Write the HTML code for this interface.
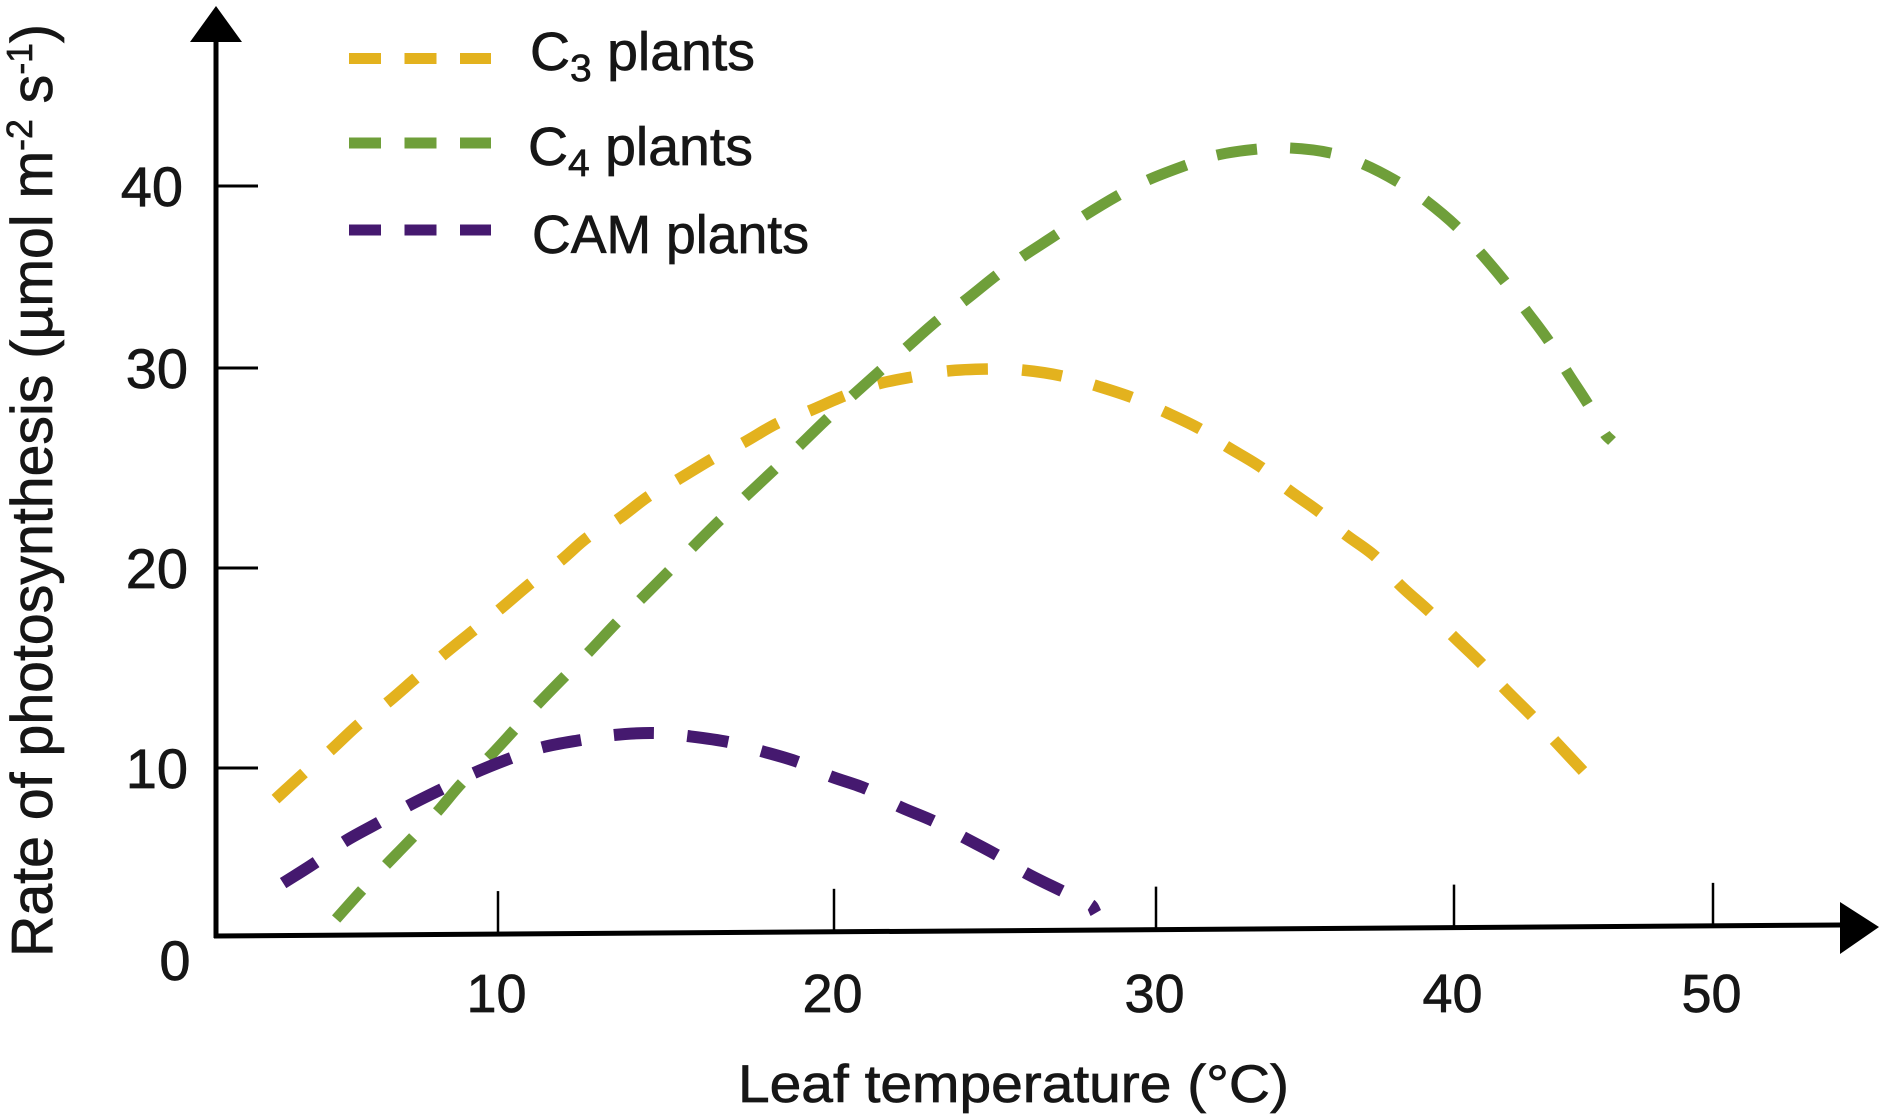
<!DOCTYPE html>
<html lang="en">
<head>
<meta charset="utf-8">
<title>Rate of photosynthesis vs leaf temperature</title>
<style>
html,body{margin:0;padding:0;background:#fff;}
svg{display:block;}
text{font-family:"Liberation Sans",sans-serif;fill:#161616;stroke:#161616;stroke-width:0.7px;}
</style>
</head>
<body>
<svg id="chart" xmlns="http://www.w3.org/2000/svg" width="1883" height="1119" viewBox="0 0 1883 1119">
  <rect x="0" y="0" width="1883" height="1119" fill="#ffffff"/>
  <g id="series-layer"></g>
  <g id="axes-layer">
    <line x1="216" y1="40" x2="216" y2="938" stroke="#000" stroke-width="5"/>
    <polygon points="216,6 242,42 190,42" fill="#000"/>
    <line x1="214" y1="936" x2="1842" y2="925" stroke="#000" stroke-width="5"/>
    <polygon points="1879,927 1840,902 1840,954" fill="#000"/>
  </g>
  <text x="175" y="980" font-size="56" text-anchor="middle">0</text>
  <text x="738" y="1102" font-size="53" textLength="551" lengthAdjust="spacingAndGlyphs">Leaf temperature (°C)</text>
  <text transform="translate(52,957) rotate(-90)" font-size="58" textLength="933" lengthAdjust="spacingAndGlyphs">Rate of photosynthesis (µmol m<tspan font-size="36" dy="-20">-2</tspan><tspan dy="20"> s</tspan><tspan font-size="36" dy="-20">-1</tspan><tspan dy="20">)</tspan></text>
  <g>
    <g>
      <line x1="349" y1="58.5" x2="491" y2="58.5" stroke="#E3B21E" stroke-width="11" stroke-dasharray="32 23.5"/>
      <text x="530" y="70" font-size="54" textLength="225" lengthAdjust="spacingAndGlyphs">C<tspan font-size="38" dy="11">3</tspan><tspan dy="-11"> plants</tspan></text>
    </g>
    <g>
      <line x1="349" y1="143" x2="491" y2="143" stroke="#6F9F3A" stroke-width="11" stroke-dasharray="32 23.5"/>
      <text x="528" y="165" font-size="54" textLength="225" lengthAdjust="spacingAndGlyphs">C<tspan font-size="38" dy="11">4</tspan><tspan dy="-11"> plants</tspan></text>
    </g>
    <g>
      <line x1="349" y1="230" x2="491" y2="230" stroke="#45196F" stroke-width="11" stroke-dasharray="32 23.5"/>
      <text x="532" y="253" font-size="54" textLength="277" lengthAdjust="spacingAndGlyphs">CAM plants</text>
    </g>
  </g>
</svg>
<script>
// Axis tick values
const xTicks = [10, 20, 30, 40, 50];
const yTicks = [10, 20, 30, 40];

// Readings along each curve, taken in pairs: each pair is the start and end of one dash.
const c3Temps = [2.11,3.12,4.04,5.07,6.06,7.09,8.01,9.15,10.03,10.98,11.85,12.68,13.54,14.49,15.33,16.37,17.29,18.33,19.26,20.31,21.37,22.42,23.51,24.78,25.84,27.08,28.07,29.25,30.23,31.48,32.35,33.56,34.40,35.50,36.34,37.38,38.12,39.19,39.93,41.08,41.89,43.01,43.86,44.98];
const c3Rates = [8.15,9.70,10.85,12.2,13.25,14.5,15.6,16.9,17.9,19.25,20.35,21.55,22.4,23.6,24.4,25.45,26.25,27.25,27.85,28.6,29.2,29.55,29.85,29.95,29.9,29.6,29.15,28.53,27.85,26.95,26.1,25.0,23.95,22.78,21.7,20.55,19.25,17.8,16.65,15.2,14.05,12.6,11.4,9.82];

const c4Temps = [4.26,5.18,6.03,6.99,7.84,8.72,9.65,10.48,11.16,12.0,12.68,13.54,14.23,15.09,15.77,16.61,17.35,18.24,18.96,19.82,20.56,21.46,22.24,23.23,24.01,25.06,25.84,26.93,27.76,28.85,29.75,31.02,32.04,33.39,34.5,35.88,36.95,38.12,39.03,40.12,41.0,41.97,42.74,43.66,44.32,45.17,45.83,46.10];
const c4Rates = [1.01,2.74,4.23,5.89,7.38,9.11,10.5,11.9,13.15,14.6,15.75,17.28,18.4,19.85,21.0,22.4,23.55,24.95,26.1,27.5,28.6,29.9,31.1,32.64,33.63,35.11,36.1,37.36,38.35,39.51,40.33,41.15,41.7,42.03,42.09,41.81,41.21,40.22,39.23,37.75,36.37,34.73,33.24,31.48,29.9,28.2,26.7,26.35];

const camTemps = [2.38,3.55,4.54,5.78,6.81,8.01,9.15,10.39,11.31,12.47,13.45,14.64,15.63,16.85,17.83,18.93,19.88,21.02,21.99,23.08,24.01,25.06,25.93,27.08,27.98,28.13];
const camRates = [3.15,4.40,5.60,6.76,7.74,8.75,9.70,10.5,11.03,11.4,11.65,11.75,11.6,11.3,10.85,10.3,9.52,8.75,7.74,6.85,5.89,4.82,3.78,2.68,1.85,1.37];

const NS = 'http://www.w3.org/2000/svg';

// The hand-drawn axes have unevenly spaced ticks, so each scale is piecewise linear.
function piecewise(v, step, px) {
  let i = Math.floor(v / step);
  if (i < 0) i = 0;
  if (i > px.length - 2) i = px.length - 2;
  return px[i] + (v / step - i) * (px[i + 1] - px[i]);
}
function xScale(v) {
  return piecewise(v, 10, [216, 498, 834, 1156, 1454, 1713]);
}
function yScale(v) {
  return piecewise(v, 10, [936, 768, 568, 368, 186]);
}
function xAxisY(px) {
  return 936 - (px - 216) * 11 / 1624;
}

// Each pair of readings becomes one dash, bent to follow the neighbouring readings.
function dashPath(temps, rates) {
  const pts = temps.map(function (t, i) {
    return [xScale(t), yScale(rates[i])];
  });
  function tangent(i) {
    const a = pts[Math.max(i - 1, 0)];
    const b = pts[Math.min(i + 1, pts.length - 1)];
    const dx = b[0] - a[0];
    const dy = b[1] - a[1];
    const n = Math.hypot(dx, dy) || 1;
    return [dx / n, dy / n];
  }
  let d = '';
  for (let i = 0; i + 1 < pts.length; i += 2) {
    const p = pts[i];
    const q = pts[i + 1];
    const len = Math.hypot(q[0] - p[0], q[1] - p[1]) / 3;
    const tp = tangent(i);
    const tq = tangent(i + 1);
    d += 'M' + p[0].toFixed(1) + ' ' + p[1].toFixed(1);
    d += 'C' + (p[0] + tp[0] * len).toFixed(1) + ' ' + (p[1] + tp[1] * len).toFixed(1);
    d += ' ' + (q[0] - tq[0] * len).toFixed(1) + ' ' + (q[1] - tq[1] * len).toFixed(1);
    d += ' ' + q[0].toFixed(1) + ' ' + q[1].toFixed(1);
  }
  return d;
}

const seriesLayer = document.getElementById('series-layer');
const axesLayer = document.getElementById('axes-layer');

const c3Line = document.createElementNS(NS, 'path');


c3Line.setAttribute('d', dashPath(c3Temps, c3Rates));
c3Line.setAttribute('fill', 'none');
c3Line.setAttribute('stroke', '#E3B21E');
c3Line.setAttribute('stroke-width', '11.5');
seriesLayer.appendChild(c3Line);

const c4Line = document.createElementNS(NS, 'path');


c4Line.setAttribute('d', dashPath(c4Temps, c4Rates));
c4Line.setAttribute('fill', 'none');
c4Line.setAttribute('stroke', '#6F9F3A');
c4Line.setAttribute('stroke-width', '11');
seriesLayer.appendChild(c4Line);

const camLine = document.createElementNS(NS, 'path');


camLine.setAttribute('d', dashPath(camTemps, camRates));
camLine.setAttribute('fill', 'none');
camLine.setAttribute('stroke', '#45196F');
camLine.setAttribute('stroke-width', '12');
seriesLayer.appendChild(camLine);

xTicks.forEach(function (v) {
  const px = xScale(v);
  const base = xAxisY(px);
  const tick = document.createElementNS(NS, 'line');
  
  
  tick.setAttribute('x1', px);
  tick.setAttribute('x2', px);
  tick.setAttribute('y1', base);
  tick.setAttribute('y2', base - 43);
  tick.setAttribute('stroke', '#000');
  tick.setAttribute('stroke-width', '2.5');
  axesLayer.appendChild(tick);

  const label = document.createElementNS(NS, 'text');
  
  
  label.setAttribute('x', px - 1.5);
  label.setAttribute('y', 1012);
  label.setAttribute('font-size', '54');
  label.setAttribute('text-anchor', 'middle');
  label.textContent = String(v);
  axesLayer.appendChild(label);
});

yTicks.forEach(function (v) {
  const py = yScale(v);
  const tick = document.createElementNS(NS, 'line');
  
  
  tick.setAttribute('x1', 216);
  tick.setAttribute('x2', 258);
  tick.setAttribute('y1', py);
  tick.setAttribute('y2', py);
  tick.setAttribute('stroke', '#000');
  tick.setAttribute('stroke-width', '3');
  axesLayer.appendChild(tick);

  const label = document.createElementNS(NS, 'text');
  
  
  label.setAttribute('x', v === 40 ? 183 : 188);
  label.setAttribute('y', py + 20);
  label.setAttribute('font-size', '56');
  label.setAttribute('text-anchor', 'end');
  label.textContent = String(v);
  axesLayer.appendChild(label);
});
</script>
</body>
</html>
